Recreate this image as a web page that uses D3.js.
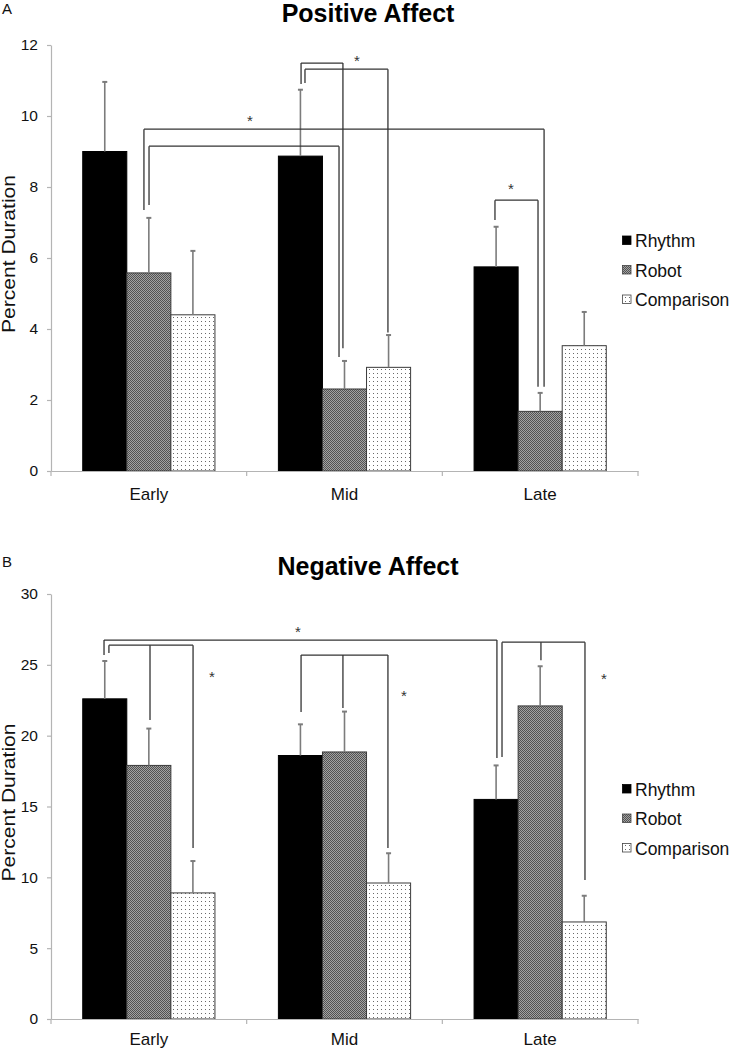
<!DOCTYPE html>
<html>
<head>
<meta charset="utf-8">
<script src="https://cdn.jsdelivr.net/npm/d3@7"></script>
<style>
  html, body { margin: 0; padding: 0; background: #fff; }
  svg { display: block; font-family: "Liberation Sans", Arial, sans-serif; }
</style>
</head>
<body>
<svg id="chart" width="729" height="1050"></svg>
<script>
// ---------- data ----------
const categories = ["Early", "Mid", "Late"];
const series = ["Rhythm", "Robot", "Comparison"];

// Panel A: Positive Affect (means and upper standard errors)
const posRhythm = [9.0, 8.87, 5.75];
const posRobot = [5.58, 2.31, 1.68];
const posComparison = [4.4, 2.92, 3.53];
const posRhythmErr = [1.96, 1.87, 1.13];
const posRobotErr = [1.55, 0.79, 0.52];
const posComparisonErr = [1.8, 0.91, 0.95];
const posTicks = [0, 2, 4, 6, 8, 10, 12];

// Panel B: Negative Affect
const negRhythm = [22.6, 18.6, 15.5];
const negRobot = [17.9, 18.85, 22.1];
const negComparison = [8.9, 9.6, 6.85];
const negRhythmErr = [2.67, 2.2, 2.4];
const negRobotErr = [2.6, 2.85, 2.8];
const negComparisonErr = [2.25, 2.1, 1.85];
const negTicks = [0, 5, 10, 15, 20, 25, 30];

// Significance brackets: legs at positions in category units [x, bottomValue], top level, star [x, value]
const posBrackets = [
  { legs: [[0.475, 7.35], [2.52, 2.37]], top: 9.63 },
  { legs: [[0.501, 7.49], [1.472, 3.21]], top: 9.15 },
  { legs: [[1.278, 10.9], [1.492, 3.46]], top: 11.49 },
  { legs: [[1.298, 10.93], [1.722, 3.9]], top: 11.32 },
  { legs: [[2.269, 7.07], [2.489, 2.37]], top: 7.63 }
];
const posStars = [[1.017, 9.97], [1.564, 11.66], [2.351, 8.06]];

const negBrackets = [
  { legs: [[0.271, 25.69], [2.279, 18.42]], top: 26.75 },
  { legs: [[0.296, 25.83], [0.506, 21.1], [0.726, 12.07]], top: 26.39 },
  { legs: [[1.278, 21.67], [1.492, 21.95], [1.722, 12.07]], top: 25.69 },
  { legs: [[2.305, 18.49], [2.504, 25.33], [2.729, 9.81]], top: 26.6 }
];
const negStars = [[1.262, 27.6], [0.823, 24.42], [1.804, 23.08], [2.826, 24.28]];

// ---------- drawing ----------
const svg = d3.select("#chart");
const defs = svg.append("defs");

const robotPat = defs.append("pattern").attr("id", "robotPat")
  .attr("width", 2).attr("height", 2).attr("patternUnits", "userSpaceOnUse");
robotPat.append("rect").attr("width", 2).attr("height", 2).attr("fill", "#a2a2a2");
robotPat.append("rect").attr("x", 0).attr("y", 0).attr("width", 1).attr("height", 1).attr("fill", "#525252");
robotPat.append("rect").attr("x", 1).attr("y", 1).attr("width", 1).attr("height", 1).attr("fill", "#525252");

const compPat = defs.append("pattern").attr("id", "compPat")
  .attr("width", 4).attr("height", 4).attr("patternUnits", "userSpaceOnUse");
compPat.append("rect").attr("width", 4).attr("height", 4).attr("fill", "#fff");
compPat.append("rect").attr("x", 1).attr("y", 1).attr("width", 1).attr("height", 1).attr("fill", "#6a6a6a");

const fills = { Rhythm: "#000", Robot: "url(#robotPat)", Comparison: "url(#compPat)" };

function drawPanel(cfg) {
  const left = 51, right = 638;
  const g = svg.append("g");

  const y = d3.scaleLinear().domain([cfg.ticks[0], cfg.ticks[cfg.ticks.length - 1]]).range([cfg.bottom, cfg.top]);
  const x0 = d3.scaleBand().domain(categories).range([left, right]).padding(0);
  const x1 = d3.scaleBand().domain(series).range([0, x0.bandwidth()]).paddingInner(0).paddingOuter(0.72);
  const xr = d3.scaleLinear().domain([0, categories.length]).range([left, right]);

  // panel letter
  g.append("text").attr("x", 2).attr("y", cfg.letterY).attr("font-size", 15).attr("fill", "#111").text(cfg.letter);

  // title
  g.append("text").attr("x", 368).attr("y", cfg.titleY).attr("text-anchor", "middle")
    .attr("font-size", 25).attr("font-weight", "bold").attr("fill", "#000").text(cfg.title);

  // y axis
  const yAxis = g.append("g").attr("transform", `translate(${left},0)`)
    .call(d3.axisLeft(y).tickValues(cfg.ticks).tickSize(4).tickSizeOuter(0).tickPadding(9));
  yAxis.select(".domain").attr("stroke", "#b4b4b4").attr("stroke-width", 1.2);
  yAxis.selectAll(".tick line").attr("stroke", "#b4b4b4").attr("stroke-width", 1.2);
  yAxis.selectAll(".tick text").attr("font-size", 15.5).attr("fill", "#111")
    .attr("font-family", "'Liberation Sans', Arial, sans-serif");

  // y label
  g.append("text")
    .attr("transform", `translate(15,${(cfg.top + cfg.bottom) / 2 - 4}) rotate(-90)`)
    .attr("text-anchor", "middle").attr("font-size", 18).attr("fill", "#111")
    .attr("textLength", 158).attr("lengthAdjust", "spacingAndGlyphs")
    .text("Percent Duration");

  // bars
  const rows = [];
  categories.forEach((c, i) => {
    series.forEach((s, j) => {
      rows.push({ cat: c, ser: s, v: cfg.values[j][i], e: cfg.errs[j][i] });
    });
  });

  const bars = g.append("g");
  bars.selectAll("rect").data(rows).join("rect")
    .attr("x", d => x0(d.cat) + x1(d.ser))
    .attr("y", d => y(d.v))
    .attr("width", x1.bandwidth())
    .attr("height", d => y(0) - y(d.v))
    .attr("fill", d => fills[d.ser])
    .attr("stroke", d => d.ser === "Rhythm" ? "#000" : "#3a3a3a")
    .attr("stroke-width", 1);

  // error bars (upper only)
  const eb = g.append("g").attr("stroke", "#7c7c7c").attr("stroke-width", 1.6);
  eb.selectAll("line.v").data(rows).join("line").attr("class", "v")
    .attr("x1", d => x0(d.cat) + x1(d.ser) + x1.bandwidth() / 2)
    .attr("x2", d => x0(d.cat) + x1(d.ser) + x1.bandwidth() / 2)
    .attr("y1", d => y(d.v)).attr("y2", d => y(d.v + d.e));
  eb.selectAll("line.c").data(rows).join("line").attr("class", "c")
    .attr("x1", d => x0(d.cat) + x1(d.ser) + x1.bandwidth() / 2 - 2.5)
    .attr("x2", d => x0(d.cat) + x1(d.ser) + x1.bandwidth() / 2 + 2.5)
    .attr("y1", d => y(d.v + d.e)).attr("y2", d => y(d.v + d.e))
    .attr("stroke-width", 2);

  // x axis
  const xAxis = g.append("g").attr("transform", `translate(0,${cfg.bottom})`)
    .call(d3.axisBottom(x0).tickSize(0).tickSizeOuter(0).tickPadding(cfg.labelPad));
  xAxis.select(".domain").attr("stroke", "#b4b4b4").attr("stroke-width", 1.2);
  xAxis.selectAll(".tick text").attr("font-size", 17).attr("fill", "#111")
    .attr("font-family", "'Liberation Sans', Arial, sans-serif");
  const bounds = categories.map(c => x0(c)).concat([x0(categories[categories.length - 1]) + x0.bandwidth()]);
  g.append("g").selectAll("line").data(bounds).join("line")
    .attr("x1", d => d).attr("x2", d => d)
    .attr("y1", cfg.bottom).attr("y2", cfg.bottom + 5)
    .attr("stroke", "#b4b4b4").attr("stroke-width", 1.2);

  // brackets
  const bg = g.append("g").attr("fill", "none").attr("stroke", "#333").attr("stroke-width", 1.3);
  cfg.brackets.forEach(b => {
    const xs = b.legs.map(l => xr(l[0]));
    bg.append("line").attr("x1", d3.min(xs)).attr("x2", d3.max(xs))
      .attr("y1", y(b.top)).attr("y2", y(b.top));
    b.legs.forEach(l => {
      bg.append("line").attr("x1", xr(l[0])).attr("x2", xr(l[0]))
        .attr("y1", y(b.top)).attr("y2", y(l[1]));
    });
  });
  g.append("g").selectAll("text").data(cfg.stars).join("text")
    .attr("x", d => xr(d[0])).attr("y", d => y(d[1]) + 9)
    .attr("text-anchor", "middle").attr("font-size", 15).attr("fill", "#333")
    .text("*");

  // legend
  const lc = (cfg.top + cfg.bottom) / 2 + 12;
  const lg = g.append("g");
  series.forEach((s, i) => {
    const cy = lc + (i - 1) * 29.5;
    lg.append("rect").attr("x", 622.5).attr("y", cy - 4.5).attr("width", 8.5).attr("height", 8.5)
      .attr("fill", fills[s]).attr("stroke", s === "Rhythm" ? "#000" : "#444").attr("stroke-width", 0.8);
    lg.append("text").attr("x", 635).attr("y", cy + 6.5).attr("font-size", 17.5).attr("fill", "#111").text(s);
  });
}

drawPanel({
  letter: "A", letterY: 14, title: "Positive Affect", titleY: 22,
  top: 45, bottom: 471, ticks: posTicks, labelPad: 17,
  values: [posRhythm, posRobot, posComparison],
  errs: [posRhythmErr, posRobotErr, posComparisonErr],
  brackets: posBrackets, stars: posStars
});

drawPanel({
  letter: "B", letterY: 567, title: "Negative Affect", titleY: 575,
  top: 594, bottom: 1019, ticks: negTicks, labelPad: 14,
  values: [negRhythm, negRobot, negComparison],
  errs: [negRhythmErr, negRobotErr, negComparisonErr],
  brackets: negBrackets, stars: negStars
});
</script>
</body>
</html>
